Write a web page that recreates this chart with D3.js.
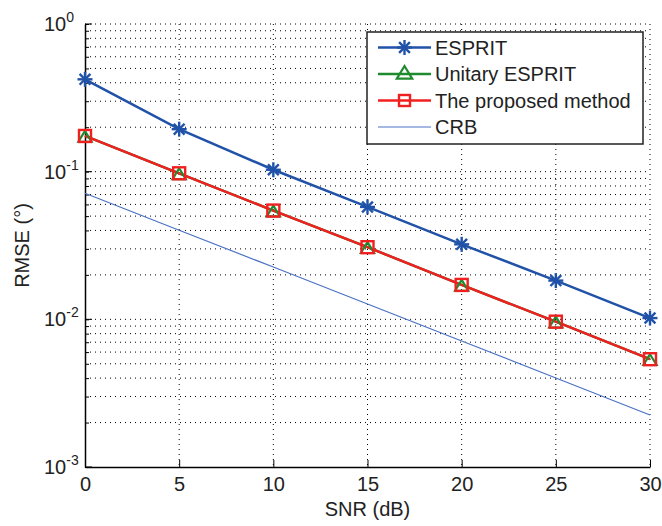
<!DOCTYPE html>
<html><head><meta charset="utf-8">
<script src="https://cdn.jsdelivr.net/npm/d3@7"></script>
<style>body{margin:0;background:#fff}svg{display:block}text{font-family:"Liberation Sans",Arial,sans-serif;fill:#222}</style>
</head><body><svg id="c" width="662" height="526"></svg>
<script>
const snr = [0, 5, 10, 15, 20, 25, 30];
const esprit = [0.422, 0.194, 0.103, 0.0577, 0.0322, 0.0183, 0.0102];
const unitary = [0.1745, 0.0975, 0.0545, 0.0308, 0.0171, 0.00964, 0.00537];
const proposed = [0.1745, 0.0975, 0.0545, 0.0308, 0.0171, 0.00964, 0.00537];
const crb = [0.0714, 0.0401, 0.0226, 0.0127, 0.00714, 0.00401, 0.00225];
const xTicks = [0, 5, 10, 15, 20, 25, 30];
const yExps = [0, -1, -2, -3];
const legendLabels = ["ESPRIT", "Unitary ESPRIT", "The proposed method", "CRB"];

const svg = d3.select("#c");
const L = 85, R = 650, T = 24, B = 467;
const x = d3.scaleLinear().domain([0, 30]).range([L, R]);
const y = d3.scaleLog().domain([1e-3, 1]).range([B, T]);

// grid
const minor = [];
for (let e = -3; e < 0; e++) for (let m = 1; m <= 9; m++) minor.push(m * Math.pow(10, e));
minor.push(1);
const g = svg.append("g");
g.selectAll(".hy").data(minor.filter(v => v > 1e-3 && v < 1)).enter().append("line")
  .attr("x1", L).attr("x2", R).attr("y1", d => y(d)).attr("y2", d => y(d))
  .attr("stroke", "#000").attr("stroke-width", 1).attr("stroke-dasharray", "1,4");
g.append("line").attr("x1", L).attr("x2", R).attr("y1", T).attr("y2", T)
  .attr("stroke", "#000").attr("stroke-dasharray", "1,4");
g.selectAll(".vx").data(xTicks.filter(v => v > 0)).enter().append("line")
  .attr("x1", d => x(d)).attr("x2", d => x(d)).attr("y1", T).attr("y2", B)
  .attr("stroke", "#000").attr("stroke-dasharray", "1,4");

// axes
const yAxis = d3.axisLeft(y).tickValues(minor).tickSizeInner(-4).tickSizeOuter(0).tickFormat("");
svg.append("g").attr("transform", `translate(${L},0)`).call(yAxis)
  .call(s => s.selectAll("line").attr("stroke", "#000"))
  .call(s => s.select(".domain").attr("stroke", "#000").attr("stroke-width", 1.5));
svg.selectAll(".maj").data(yExps).enter().append("line")
  .attr("x1", L).attr("x2", L + 7).attr("y1", d => y(Math.pow(10, d))).attr("y2", d => y(Math.pow(10, d)))
  .attr("stroke", "#000");
const xAxis = d3.axisBottom(x).tickValues(xTicks).tickSizeInner(-7).tickSizeOuter(0).tickFormat(d3.format("d"));
svg.append("g").attr("transform", `translate(0,${B})`).call(xAxis)
  .call(s => s.selectAll("line").attr("stroke", "#000"))
  .call(s => s.select(".domain").attr("stroke", "#000").attr("stroke-width", 1.5))
  .call(s => s.selectAll("text").attr("font-size", 20).attr("fill", "#222").attr("dy", 0).attr("y", 24)
    .attr("font-family", '"Liberation Sans",Arial,sans-serif'));

// y labels with superscripts
const yl = svg.selectAll(".yl").data(yExps).enter().append("text")
  .attr("x", 44).attr("y", d => y(Math.pow(10, d)) + 7).attr("font-size", 20);
yl.append("tspan").text("10");
yl.append("tspan").attr("dy", -9).attr("font-size", 14).text(d => d);

svg.append("text").attr("x", (L + R) / 2).attr("y", 516).attr("text-anchor", "middle").attr("font-size", 20).text("SNR (dB)");
svg.append("text").attr("transform", `translate(29,${(T + B) / 2}) rotate(-90)`).attr("text-anchor", "middle")
  .attr("font-size", 20).text("RMSE (°)");

// series
const C = { esprit: "#2052a8", unitary: "#1f8a2e", proposed: "#f02020", crb: "#4a72c4" };
const line = d3.line().x((d, i) => x(snr[i])).y(d => y(d));
const plot = svg.append("g");
plot.append("path").datum(crb).attr("d", line).attr("fill", "none").attr("stroke", C.crb).attr("stroke-width", 1.2);
plot.append("path").datum(unitary).attr("d", line).attr("fill", "none").attr("stroke", C.unitary).attr("stroke-width", 2.5);
plot.append("path").datum(proposed).attr("d", line).attr("fill", "none").attr("stroke", C.proposed).attr("stroke-width", 2.5);
plot.append("path").datum(esprit).attr("d", line).attr("fill", "none").attr("stroke", C.esprit).attr("stroke-width", 2.5);

function star(sel, s) {
  const r = s / 2;
  [[-r, 0, r, 0], [0, -r, 0, r], [-r * .72, -r * .72, r * .72, r * .72], [-r * .72, r * .72, r * .72, -r * .72]].forEach(a =>
    sel.append("line").attr("x1", a[0]).attr("y1", a[1]).attr("x2", a[2]).attr("y2", a[3])
      .attr("stroke", C.esprit).attr("stroke-width", 2.4));
}
function tri(sel, s) {
  const h = s / 2;
  sel.append("path").attr("d", `M0,${-h} L${h * 1.1},${h * .8} L${-h * 1.1},${h * .8} Z`)
    .attr("fill", "none").attr("stroke", C.unitary).attr("stroke-width", 2.2);
}
function sq(sel, s) {
  sel.append("rect").attr("x", -s / 2).attr("y", -s / 2).attr("width", s).attr("height", s)
    .attr("fill", "none").attr("stroke", C.proposed).attr("stroke-width", 2.4);
}
unitary.forEach((v, i) => tri(plot.append("g").attr("transform", `translate(${x(snr[i])},${y(v) + 1})`), 12));
proposed.forEach((v, i) => sq(plot.append("g").attr("transform", `translate(${x(snr[i])},${y(v)})`), 12));
esprit.forEach((v, i) => star(plot.append("g").attr("transform", `translate(${x(snr[i])},${y(v)})`), 15));

// legend
const lg = svg.append("g");
lg.append("rect").attr("x", 367).attr("y", 32).attr("width", 276).attr("height", 112)
  .attr("fill", "#fff").attr("stroke", "#222").attr("stroke-width", 1.5);
const rows = [47.5, 74, 100.5, 127];
const cols = [C.esprit, C.unitary, C.proposed, C.crb];
legendLabels.forEach((lab, i) => {
  const gy = rows[i];
  lg.append("line").attr("x1", 378).attr("x2", 431).attr("y1", gy).attr("y2", gy)
    .attr("stroke", cols[i]).attr("stroke-width", i === 3 ? 1.2 : 2.5);
  const mg = lg.append("g").attr("transform", `translate(404.5,${gy})`);
  if (i === 0) star(mg, 15);
  if (i === 1) { mg.attr("transform", `translate(404.5,${gy - 1})`); tri(mg, 14); }
  if (i === 2) sq(mg, 11);
  lg.append("text").attr("x", 435).attr("y", gy + 7).attr("font-size", 20).text(lab);
});
</script></body></html>
